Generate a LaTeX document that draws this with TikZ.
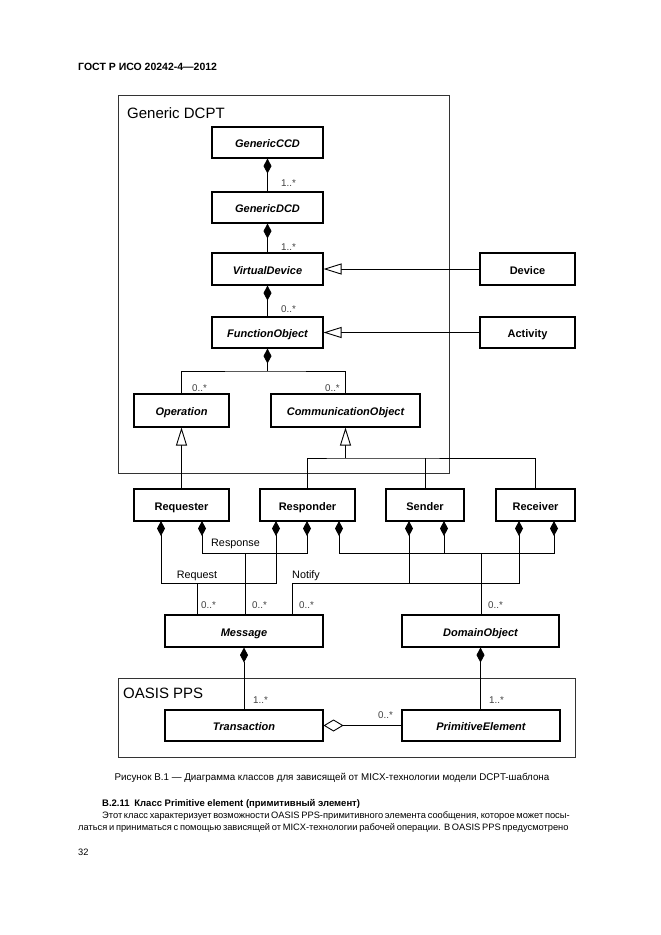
\documentclass[tikz,border=0pt]{standalone}
\usepackage{fontspec}
\setmainfont{Liberation Sans}
\usetikzlibrary{arrows.meta,calc}
\begin{document}
\begin{tikzpicture}[x=1pt,y=-1pt,
  cls/.style={draw,line width=1.1pt,minimum height=31pt,inner sep=0pt,text height=10pt,text depth=0pt,font=\fontsize{11}{12}\selectfont\bfseries\itshape},
  ccls/.style={draw,line width=1.1pt,minimum height=32pt,inner sep=0pt,text height=10pt,text depth=0pt,font=\fontsize{11}{12}\selectfont\bfseries},
  frame/.style={draw=black!80,line width=0.7pt},
  conn/.style={line width=0.9pt},
  comp/.style={conn,{Diamond[length=15pt,width=8pt]}-},
  comptwo/.style={conn,{Diamond[length=15pt,width=8pt]}-{Diamond[length=15pt,width=8pt]}},
  gen/.style={conn,-{Triangle[open,length=18pt,width=11pt,fill=white]}},
  agg/.style={conn,{Diamond[open,length=20pt,width=12pt,fill=white]}-},
  mult/.style={inner sep=0pt,anchor=west,text=black!75,font=\fontsize{9.8}{10}\selectfont},
  lbl/.style={inner sep=0pt,anchor=west,font=\fontsize{10.8}{11}\selectfont},
  txt/.style={inner sep=0pt,anchor=west,font=\fontsize{9.3}{11}\selectfont}
]
\useasboundingbox (0,0) rectangle (661,935);
\fill[white] (0,0) rectangle (661,935);

% header
\node[inner sep=0pt,anchor=west,font=\fontsize{10.5}{12}\selectfont\bfseries] (hdr) at (78,67) {ГОСТ Р ИСО 20242-4—2012};

% frames
\draw[frame] (118,95) rectangle (449,473);
\node[inner sep=0pt,anchor=west,font=\fontsize{15}{17}\selectfont] (gtitle) at (127,113) {Generic DCPT};
\draw[frame] (118,678) rectangle (575,757);
\node[inner sep=0pt,anchor=west,font=\fontsize{15}{17}\selectfont] (otitle) at (123,693) {OASIS PPS};

% classes
\node[cls,minimum width=111pt] (ccd) at (267.5,142.5) {GenericCCD};
\node[cls,minimum width=111pt] (dcd) at (267.5,207.5) {GenericDCD};
\node[cls,minimum width=111pt,minimum height=32pt] (vd) at (267.5,269) {VirtualDevice};
\node[cls,minimum width=111pt] (fo) at (267.5,332.5) {FunctionObject};
\node[ccls,minimum width=95pt] (device) at (527.5,269) {Device};
\node[ccls,minimum width=95pt,minimum height=31pt] (activity) at (527.5,332.5) {Activity};
\node[cls,minimum width=95pt,minimum height=33pt] (op) at (181.5,410.5) {Operation};
\node[cls,minimum width=149pt,minimum height=33pt] (co) at (345.5,410.5) {CommunicationObject};
\node[ccls,minimum width=95pt] (req) at (181.5,505) {Requester};
\node[ccls,minimum width=95pt] (resp) at (307.5,505) {Responder};
\node[ccls,minimum width=78pt] (send) at (425,505) {Sender};
\node[ccls,minimum width=79pt] (recv) at (535.5,505) {Receiver};
\node[cls,minimum width=158pt,minimum height=32pt] (msg) at (244,631) {Message};
\node[cls,minimum width=157pt,minimum height=32pt] (dom) at (480.5,631) {DomainObject};
\node[cls,minimum width=158pt] (trans) at (244,725.5) {Transaction};
\node[cls,minimum width=158pt] (prim) at (481,725.5) {PrimitiveElement};

% top compositions
\draw[comp] (ccd.south) -- (dcd.north);
\node[mult] (m1) at (281,183) {1..*};
\draw[comp] (dcd.south) -- (vd.north);
\node[mult] (m2) at (281,247) {1..*};
\draw[comp] (vd.south) -- (fo.north);
\node[mult] (m3) at (281,309) {0..*};
\draw[gen] (device.west) -- (vd.east);
\draw[gen] (activity.west) -- (fo.east);

\coordinate (fj) at (267.5,371);
\draw[comp] (fo.south) -- (fj);
\draw[conn] (op.north) |- (fj) -| (co.north);
\node[mult] (m4) at (192,388) {0..*};
\node[mult,anchor=east] (m5) at (340,388) {0..*};

% generalizations
\draw[gen] (req.north) -- (op.south);
\coordinate (gj) at (345.5,458);
\draw[gen] (gj) -- (co.south);
\draw[conn] (resp.north) |- (gj) -| (recv.north);
\draw[conn] (send.north) -- (send.north |- gj);

% diamond anchors
\coordinate (rq1) at (161,521);
\coordinate (rq2) at (202,521);
\coordinate (rs1) at (276,521);
\coordinate (rs2) at (307,521);
\coordinate (rs3) at (339,521);
\coordinate (sd1) at (409,521);
\coordinate (sd2) at (444,521);
\coordinate (rc1) at (519,521);
\coordinate (rc2) at (554,521);
\coordinate (hA) at (0,553);
\coordinate (hB) at (0,583);

% Request
\draw[comptwo] (rq1) -- (rq1 |- hB) -- (rs1 |- hB) -- (rs1);
\coordinate (bq) at (197,583);
\draw[conn] (bq) -- (bq |- msg.north);
\node[lbl,anchor=center] (lreq) at (197,576) {Request};
% Response
\draw[comptwo] (rq2) -- (rq2 |- hA) -- (rs2 |- hA) -- (rs2);
\coordinate (bres) at (245,553);
\draw[conn] (bres) -- (bres |- msg.north);
\node[lbl] (lres) at (211,544) {Response};
% Notify upper
\draw[comptwo] (rs3) -- (rs3 |- hA) -- (rc2 |- hA) -- (rc2);
\draw[comp] (sd2) -- (sd2 |- hA);
\coordinate (bdom) at (481,553);
\draw[conn] (bdom) -- (bdom |- dom.north);
% Notify lower
\coordinate (bn) at (292,583);
\draw[comp] (rc1) -- (rc1 |- hB) -- (bn) -- (bn |- msg.north);
\draw[comp] (sd1) -- (sd1 |- hB);
\node[lbl] (lnot) at (292,576) {Notify};

\node[mult] (m6) at (201,605) {0..*};
\node[mult] (m7) at (252,605) {0..*};
\node[mult] (m8) at (299,605) {0..*};
\node[mult] (m9) at (488,605) {0..*};

% OASIS
\draw[comp] (msg.south) -- (trans.north);
\draw[comp] (dom.south) -- (dom.south |- prim.north);
\draw[agg] (trans.east) -- (prim.west);
\node[mult] (m10) at (253,700) {1..*};
\node[mult] (m11) at (489,700) {1..*};
\node[mult] (m12) at (378,715) {0..*};

% caption and text
\node[inner sep=0pt,font=\fontsize{9.8}{11}\selectfont] (cap) at (332,778) {Рисунок В.1 — Диаграмма классов для зависящей от MICX-технологии модели DCPT-шаблона};
\node[txt,font=\fontsize{9.5}{11}\selectfont\bfseries] (sec) at (102,804) {B.2.11\enspace Класс Primitive element (примитивный элемент)};
\node[txt] (p1) at (102,816) {\makebox[457pt][s]{Этот класс характеризует возможности OASIS PPS-примитивного элемента сообщения, которое может посы-}};
\node[txt] (p2) at (78,828) {\makebox[481pt][s]{латься и приниматься с помощью зависящей от MICX-технологии рабочей операции. В OASIS PPS предусмотрено}};
\node[txt] (pg) at (78,852) {32};
\end{tikzpicture}
\end{document}
